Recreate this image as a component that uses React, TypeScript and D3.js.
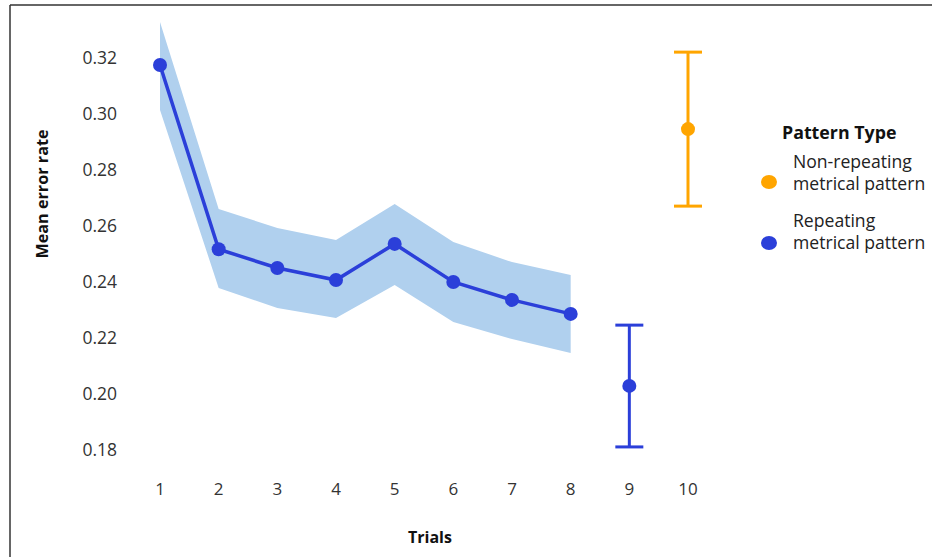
import React from "react";
import * as d3 from "d3";

const trials = [1, 2, 3, 4, 5, 6, 7, 8];
const repeatingMean = [0.3175, 0.2517, 0.245, 0.2407, 0.2536, 0.24, 0.2336, 0.2286];
const repeatingUpper = [0.3329, 0.2661, 0.2593, 0.255, 0.2679, 0.2543, 0.2471, 0.2425];
const repeatingLower = [0.3014, 0.2379, 0.2307, 0.2271, 0.2389, 0.2257, 0.2196, 0.2146];

const summaryTrials = [9, 10];
const summaryMean = [0.2029, 0.2946];
const summaryUpper = [0.2246, 0.3221];
const summaryLower = [0.1811, 0.2671];
const summaryType = ["Repeating", "Non-repeating"];

const xTicks = [1, 2, 3, 4, 5, 6, 7, 8, 9, 10];
const yTicks = [0.18, 0.2, 0.22, 0.24, 0.26, 0.28, 0.3, 0.32];

const BLUE = "#2B3FD9";
const BAND = "#B0D0EE";
const ORANGE = "#FFA500";
const FONT = "'Open Sans', sans-serif";

export default function App() {
  const W = 932, H = 557;
  const x = d3.scaleLinear().domain([1, 10]).range([160, 688]);
  const y = d3.scaleLinear().domain([0.18, 0.32]).range([450, 58]);

  const area = d3
    .area<number>()
    .x((_, i) => x(trials[i]))
    .y0((_, i) => y(repeatingLower[i]))
    .y1((_, i) => y(repeatingUpper[i]));
  const line = d3
    .line<number>()
    .x((_, i) => x(trials[i]))
    .y((d) => y(d));

  const colorOf = (t: string) => (t === "Repeating" ? BLUE : ORANGE);

  return (
    <svg width={W} height={H} style={{ position: "absolute", left: 0, top: 0 }}>
      <rect width={W} height={H} fill="#fff" />
      <line x1={10} y1={5} x2={W} y2={5} stroke="#333" strokeWidth={1.5} />
      <line x1={10} y1={5} x2={10} y2={H} stroke="#333" strokeWidth={1.5} />

      {yTicks.map((t) => (
        <text key={t} x={117} y={y(t)} dy="0.35em" textAnchor="end" fontFamily={FONT} fontSize={17.5} fill="#333">
          {t.toFixed(2)}
        </text>
      ))}
      {xTicks.map((t) => (
        <text key={t} x={x(t)} y={489} dy="0.35em" textAnchor="middle" fontFamily={FONT} fontSize={17} fill="#333">
          {t}
        </text>
      ))}

      <text
        transform={`translate(42,194) rotate(-90)`}
        textAnchor="middle"
        dy="0.35em"
        fontFamily={FONT}
        fontWeight="bold"
        fontSize={16.2}
        fill="#111"
      >
        Mean error rate
      </text>
      <text x={430} y={537} dy="0.35em" textAnchor="middle" fontFamily={FONT} fontWeight="bold" fontSize={16} fill="#111">
        Trials
      </text>

      <path d={area(repeatingMean) || ""} fill={BAND} />
      <path d={line(repeatingMean) || ""} fill="none" stroke={BLUE} strokeWidth={3.5} />
      {repeatingMean.map((m, i) => (
        <circle key={i} cx={x(trials[i])} cy={y(m)} r={7} fill={BLUE} />
      ))}

      {summaryTrials.map((t, i) => {
        const c = colorOf(summaryType[i]);
        const cx = x(t);
        return (
          <g key={t}>
            <line x1={cx} x2={cx} y1={y(summaryUpper[i])} y2={y(summaryLower[i])} stroke={c} strokeWidth={3} />
            <line x1={cx - 14} x2={cx + 14} y1={y(summaryUpper[i])} y2={y(summaryUpper[i])} stroke={c} strokeWidth={3} />
            <line x1={cx - 14} x2={cx + 14} y1={y(summaryLower[i])} y2={y(summaryLower[i])} stroke={c} strokeWidth={3} />
            <circle cx={cx} cy={y(summaryMean[i])} r={7} fill={c} />
          </g>
        );
      })}

      <text x={782} y={133} dy="0.35em" fontFamily={FONT} fontWeight="bold" fontSize={17.8} fill="#111">
        Pattern Type
      </text>
      <ellipse cx={769} cy={182} rx={8} ry={7} fill={ORANGE} />
      <text x={793} y={162} dy="0.35em" fontFamily={FONT} fontSize={17.6} fill="#222">Non-repeating</text>
      <text x={793} y={184} dy="0.35em" fontFamily={FONT} fontSize={17.6} fill="#222">metrical pattern</text>
      <ellipse cx={769} cy={243} rx={8} ry={7} fill={BLUE} />
      <text x={793} y={221} dy="0.35em" fontFamily={FONT} fontSize={17.6} fill="#222">Repeating</text>
      <text x={793} y={243} dy="0.35em" fontFamily={FONT} fontSize={17.6} fill="#222">metrical pattern</text>
    </svg>
  );
}
